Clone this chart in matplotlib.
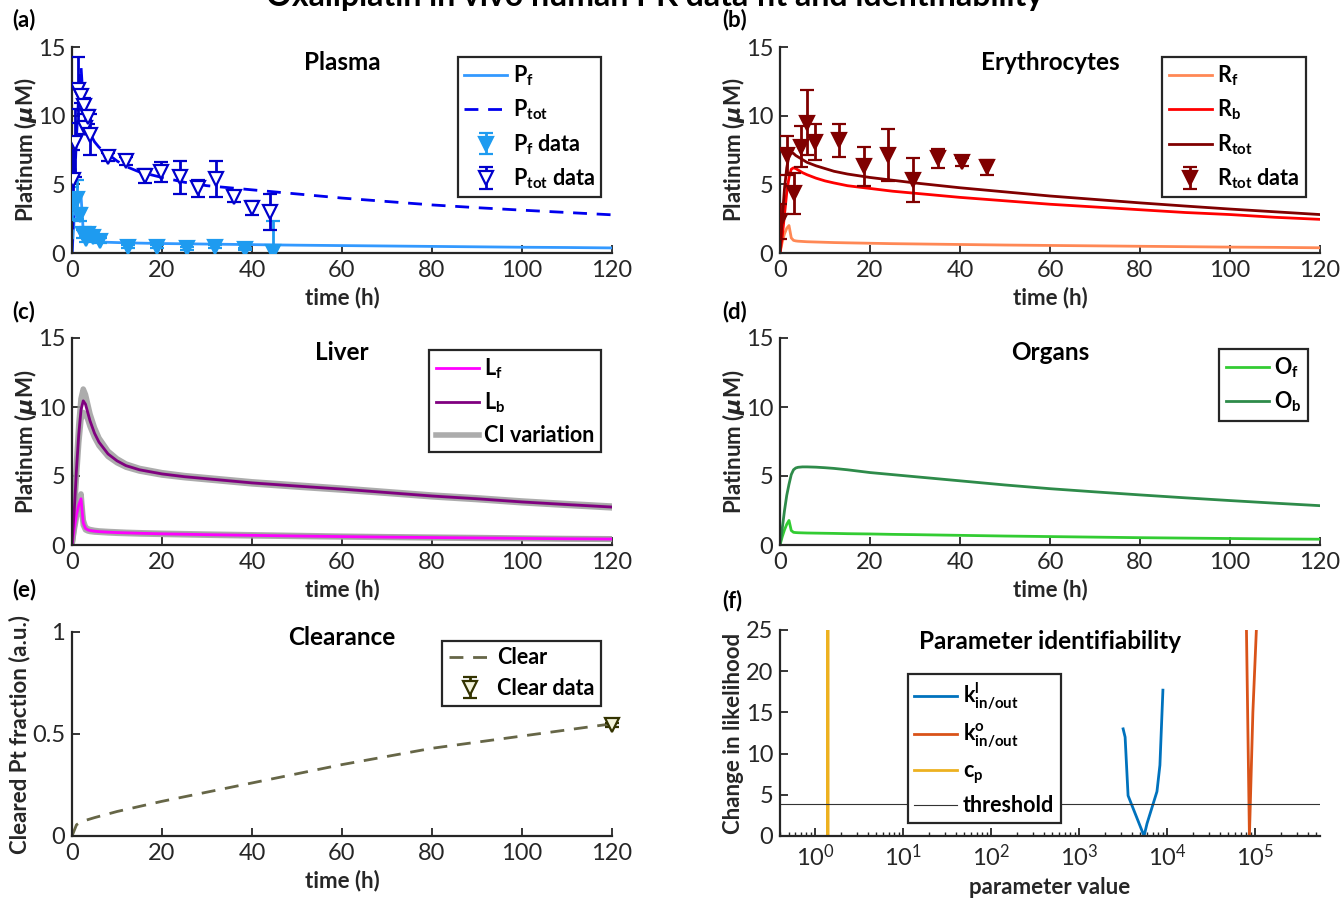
import matplotlib
matplotlib.use('Agg')
import matplotlib.pyplot as plt
import numpy as np

# fonts / matlab-like look
plt.rcParams['font.family'] = ['Lato', 'DejaVu Sans']
plt.rcParams['mathtext.fontset'] = 'custom'
plt.rcParams['mathtext.rm'] = 'Lato:bold'
plt.rcParams['mathtext.bf'] = 'Lato:bold'
plt.rcParams['mathtext.it'] = 'DejaVu Sans:italic:bold'
plt.rcParams['axes.linewidth'] = 1.6

# model time grid (h)
t_model = [0, 0.5, 1, 1.5, 2, 2.5, 3, 3.5, 4, 5, 6, 8, 10, 12, 15, 20, 25, 30,
           40, 50, 60, 70, 80, 90, 100, 110, 120]

# plasma
p_free = [0, 2.5, 3.4, 3.9, 4.2, 1.6, 1.05, 0.92, 0.87, 0.83, 0.8, 0.78, 0.76, 0.74,
          0.72, 0.69, 0.67, 0.65, 0.61, 0.57, 0.54, 0.51, 0.48, 0.45, 0.42, 0.4, 0.37]
p_tot = [0, 4.5, 8.5, 11.5, 13.6, 11.0, 9.8, 9.1, 8.7, 8.1, 7.7, 7.2, 6.7, 6.3,
         5.9, 5.5, 5.15, 4.9, 4.6, 4.3, 4.0, 3.75, 3.5, 3.3, 3.12, 2.95, 2.78]
pf_t = [0.1, 1.2, 1.7, 2.5, 3.1, 3.6, 4.7, 6.2, 12.5, 18.8, 25.5, 31.8, 38.4, 44.7]
pf_y = [3.6, 3.9, 2.8, 1.4, 1.0, 1.4, 1.2, 0.9, 0.45, 0.45, 0.35, 0.45, 0.3, 0.1]
pf_err = [1.2, 1.4, 0.5, 0.3, 0.2, 0.3, 0.2, 0.2, 0.1, 0.1, 0.1, 0.1, 0.1, 2.2]
ptot_t = [0.2, 0.76, 1.24, 1.9, 2.6, 2.9, 3.5, 4.0, 8.1, 11.9, 16.2, 19.8, 24.1,
          27.9, 32.1, 36.0, 40.0, 44.0]
ptot_y = [5.3, 8.0, 11.9, 11.4, 10.7, 9.1, 9.9, 8.6, 7.0, 6.7, 5.6, 5.9, 5.5,
          4.7, 5.4, 4.1, 3.3, 3.0]
ptot_err = [2.2, 2.5, 2.4, 0.5, 0.6, 0.4, 0.5, 1.5, 0.3, 0.3, 0.5, 0.7, 1.2,
            0.6, 1.3, 0.4, 0.5, 1.3]

# erythrocytes
r_free = [0, 0.8, 1.4, 1.8, 2.0, 1.1, 0.92, 0.88, 0.86, 0.84, 0.82, 0.8, 0.78, 0.76,
          0.74, 0.71, 0.68, 0.66, 0.62, 0.58, 0.55, 0.52, 0.49, 0.46, 0.43, 0.41, 0.38]
r_bound = [0, 1.2, 2.8, 4.4, 5.5, 6.1, 6.2, 6.15, 6.05, 5.85, 5.7, 5.45, 5.25, 5.1,
           4.9, 4.7, 4.5, 4.35, 4.05, 3.8, 3.55, 3.35, 3.15, 2.95, 2.8, 2.6, 2.45]
r_tot = [0, 2.5, 4.7, 6.2, 7.1, 7.3, 7.25, 7.1, 7.0, 6.8, 6.6, 6.35, 6.15, 5.95,
         5.75, 5.5, 5.3, 5.1, 4.75, 4.45, 4.15, 3.9, 3.65, 3.42, 3.2, 3.0, 2.8]
rtot_t = [0.0, 1.6, 3.1, 4.6, 6.1, 7.8, 13.2, 18.7, 24.1, 29.6, 35.0, 40.4, 45.9]
rtot_y = [2.3, 7.1, 4.35, 7.75, 9.5, 8.1, 8.2, 6.3, 7.15, 5.3, 6.9, 6.65, 6.25]
rtot_err = [1.3, 1.4, 1.5, 1.5, 2.4, 1.3, 1.2, 1.4, 1.9, 1.6, 0.7, 0.3, 0.55]

# liver
l_free = [0, 1.2, 2.2, 2.9, 3.35, 1.6, 1.2, 1.1, 1.05, 1.0, 0.97, 0.93, 0.9, 0.88,
          0.85, 0.81, 0.78, 0.75, 0.7, 0.65, 0.61, 0.57, 0.54, 0.51, 0.48, 0.45, 0.43]
l_free_hi = [0, 1.3, 2.4, 3.2, 3.7, 1.8, 1.3, 1.18, 1.12, 1.06, 1.02, 0.98, 0.95, 0.92,
             0.89, 0.85, 0.82, 0.79, 0.74, 0.69, 0.64, 0.6, 0.57, 0.54, 0.5, 0.47, 0.45]
l_free_lo = [0, 1.1, 2.0, 2.7, 3.1, 1.45, 1.1, 1.02, 0.98, 0.94, 0.92, 0.88, 0.85, 0.83,
             0.8, 0.77, 0.74, 0.71, 0.66, 0.62, 0.58, 0.55, 0.51, 0.48, 0.46, 0.43, 0.41]
l_bound = [0, 2.5, 5.5, 8.0, 9.8, 10.45, 10.2, 9.6, 9.0, 8.1, 7.45, 6.6, 6.1, 5.75,
           5.45, 5.15, 4.95, 4.8, 4.5, 4.27, 4.05, 3.8, 3.55, 3.35, 3.12, 2.93, 2.75]
l_bound_hi = [0, 2.8, 6.0, 8.7, 10.6, 11.3, 10.9, 10.2, 9.5, 8.5, 7.75, 6.8, 6.25, 5.87,
              5.55, 5.24, 5.03, 4.88, 4.58, 4.35, 4.12, 3.87, 3.62, 3.42, 3.19, 3.0, 2.82]
l_bound_lo = [0, 2.3, 5.0, 7.4, 9.1, 9.6, 9.5, 9.1, 8.6, 7.8, 7.2, 6.42, 5.96, 5.64,
              5.36, 5.07, 4.88, 4.73, 4.43, 4.2, 3.98, 3.74, 3.49, 3.29, 3.06, 2.87, 2.69]

# organs
o_free = [0, 0.6, 1.1, 1.5, 1.78, 1.05, 0.92, 0.9, 0.89, 0.88, 0.87, 0.86, 0.85, 0.84,
          0.82, 0.8, 0.77, 0.75, 0.7, 0.65, 0.61, 0.57, 0.53, 0.5, 0.47, 0.44, 0.42]
o_bound = [0, 1.2, 2.5, 3.6, 4.4, 5.1, 5.45, 5.58, 5.63, 5.66, 5.66, 5.64, 5.6, 5.55,
           5.45, 5.25, 5.1, 4.95, 4.65, 4.35, 4.08, 3.85, 3.63, 3.42, 3.22, 3.03, 2.85]

# clearance
t_clear = [0, 1, 2, 5, 10, 20, 30, 40, 50, 60, 70, 80, 90, 100, 110, 120]
clear = [0, 0.055, 0.07, 0.09, 0.12, 0.17, 0.215, 0.26, 0.305, 0.35, 0.39, 0.43,
         0.46, 0.49, 0.52, 0.55]
clear_t = [120]
clear_y = [0.545]
clear_err = [0.01]

# identifiability profiles
kl_vals = [3180, 3350, 3620, 5500, 5940, 7710, 8330, 9010]
kl_like = [13.0, 12.0, 4.9, 0, 1.5, 5.4, 8.6, 17.7]
ko_vals = [79000, 86700, 94900, 104000]
ko_like = [30, 0, 15, 25]
cp_vals = [1.395, 1.40, 1.405]
cp_like = [60, 0, 60]
threshold = 3.84

W, H = 1341, 901
fig = plt.figure(figsize=(W / 100, H / 100), dpi=100)


def box(left, top, right, bottom):
    return [left / W, 1 - bottom / H, (right - left) / W, (bottom - top) / H]


TXT = '#262626'


def style(ax):
    for s in ['top', 'right']:
        ax.spines[s].set_visible(False)
    for s in ['left', 'bottom']:
        ax.spines[s].set_color(TXT)
    ax.tick_params(direction='in', length=6, width=1.3, colors=TXT, labelsize=17, pad=5)
    ax.tick_params(which='minor', direction='in', length=3, width=1.0, colors=TXT)


def legend(ax, handles, labels, **kw):
    leg = ax.legend(handles, labels, frameon=True, fancybox=False, framealpha=1,
                    edgecolor=TXT, prop={'weight': 'bold', 'size': 15.5},
                    borderaxespad=0, handlelength=2.0, handletextpad=0.25,
                    labelspacing=0.45, borderpad=0.3, **kw)
    leg.get_frame().set_linewidth(1.6)
    return leg


def title(ax, text, y):
    ax.text(0.5, y, text, transform=ax.transAxes, ha='center', va='center',
            fontsize=17.5, fontweight='bold', color='black')


def time_axis(ax):
    ax.set_xlim(0, 120)
    ax.set_xticks(range(0, 121, 20))
    ax.set_xlabel('time (h)', fontsize=16, fontweight='bold', color=TXT)
    ax.xaxis.set_label_coords(0.5, -0.165)


def plat_axis(ax):
    ax.set_ylim(0, 15)
    ax.set_yticks([0, 5, 10, 15])
    ax.set_ylabel(r'Platinum ($\mu$M)', fontsize=16, fontweight='bold', color=TXT)
    ax.yaxis.set_label_coords(-0.062, 0.5)


lw = 2.0
eb = dict(capsize=5, elinewidth=2, capthick=2, ms=9.5, mew=1.6, linestyle='none', zorder=3)

# (a) plasma
ax = fig.add_axes(box(72, 47, 612, 253))
style(ax)
h1, = ax.plot(t_model, p_free, color='#3399FF', lw=lw)
h2, = ax.plot(t_model, p_tot, color='#0000EE', lw=lw, ls=(0, (5, 3.5)))
h3 = ax.errorbar(pf_t, pf_y, yerr=pf_err, fmt='v', color='#1E9BF0', mfc='#1E9BF0',
                 mec='#1E9BF0', **eb)
h4 = ax.errorbar(ptot_t, ptot_y, yerr=ptot_err, fmt='v', color='#0000CC', mfc='white',
                 mec='#0000CC', **eb)
time_axis(ax)
plat_axis(ax)
title(ax, 'Plasma', 0.927)
legend(ax, [h1, h2, h3, h4],
       [r'P$_\mathrm{f}$', r'P$_\mathrm{tot}$', r'P$_\mathrm{f}$ data', r'P$_\mathrm{tot}$ data'],
       loc='upper right', bbox_to_anchor=(0.98, 0.951))

# (b) erythrocytes
ax = fig.add_axes(box(780, 47, 1320, 253))
style(ax)
h1, = ax.plot(t_model, r_free, color='#FF8855', lw=lw)
h2, = ax.plot(t_model, r_bound, color='#FF0000', lw=lw)
h3, = ax.plot(t_model, r_tot, color='#800000', lw=lw)
h4 = ax.errorbar(rtot_t, rtot_y, yerr=rtot_err, fmt='v', color='#800000', mfc='#800000',
                 mec='#800000', **dict(eb, ms=10.5))
time_axis(ax)
plat_axis(ax)
title(ax, 'Erythrocytes', 0.927)
legend(ax, [h1, h2, h3, h4],
       [r'R$_\mathrm{f}$', r'R$_\mathrm{b}$', r'R$_\mathrm{tot}$', r'R$_\mathrm{tot}$ data'],
       loc='upper right', bbox_to_anchor=(0.974, 0.951))

# (c) liver
ax = fig.add_axes(box(72, 338, 612, 545))
style(ax)
for curve in [l_bound_hi, l_bound_lo, l_free_hi, l_free_lo]:
    hci, = ax.plot(t_model, curve, color='#9E9E9E', lw=4, alpha=0.85)
h1, = ax.plot(t_model, l_free, color='#FF00FF', lw=lw)
h2, = ax.plot(t_model, l_bound, color='#800080', lw=lw)
time_axis(ax)
plat_axis(ax)
title(ax, 'Liver', 0.928)
legend(ax, [h1, h2, hci], [r'L$_\mathrm{f}$', r'L$_\mathrm{b}$', 'CI variation'],
       loc='upper right', bbox_to_anchor=(0.98, 0.942))

# (d) organs
ax = fig.add_axes(box(780, 338, 1320, 545))
style(ax)
h1, = ax.plot(t_model, o_free, color='#33CC33', lw=lw)
h2, = ax.plot(t_model, o_bound, color='#2E8B4A', lw=lw)
time_axis(ax)
plat_axis(ax)
title(ax, 'Organs', 0.928)
legend(ax, [h1, h2], [r'O$_\mathrm{f}$', r'O$_\mathrm{b}$'],
       loc='upper right', bbox_to_anchor=(0.978, 0.947))

# (e) clearance
ax = fig.add_axes(box(72, 632, 612, 836))
style(ax)
h1, = ax.plot(t_clear, clear, color='#666647', lw=lw, ls=(0, (5, 3.5)))
h2 = ax.errorbar(clear_t, clear_y, yerr=clear_err, fmt='v', color='#333300', mfc='#F4F4DC',
                 mec='#333300', **dict(eb, clip_on=False))
time_axis(ax)
ax.set_ylim(0, 1)
ax.set_yticks([0, 0.5, 1])
ax.set_yticklabels(['0', '0.5', '1'])
ax.set_ylabel('Cleared Pt fraction (a.u.)', fontsize=16, fontweight='bold', color=TXT)
ax.yaxis.set_label_coords(-0.078, 0.5)
title(ax, 'Clearance', 0.975)
legend(ax, [h1, h2], ['Clear', 'Clear data'],
       loc='upper right', bbox_to_anchor=(0.98, 0.956))

# (f) identifiability
ax = fig.add_axes(box(780, 630, 1320, 836))
style(ax)
ax.set_xscale('log')
h1, = ax.plot(kl_vals, kl_like, color='#0072BD', lw=lw)
h2, = ax.plot(ko_vals, ko_like, color='#D95319', lw=lw)
h3, = ax.plot(cp_vals, cp_like, color='#EDB120', lw=lw)
h4 = ax.axhline(threshold, color='#333333', lw=0.8)
ax.set_xlim(0.4, 5.5e5)
ax.set_ylim(0, 25)
ax.set_yticks(range(0, 26, 5))
ax.set_xticks([1, 10, 100, 1e3, 1e4, 1e5])
ax.set_xlabel('parameter value', fontsize=16, fontweight='bold', color=TXT)
ax.xaxis.set_label_coords(0.5, -0.2)
ax.set_ylabel('Change in likelihood', fontsize=16, fontweight='bold', color=TXT)
ax.yaxis.set_label_coords(-0.066, 0.5)
title(ax, 'Parameter identifiability', 0.946)
legend(ax, [h1, h2, h3, h4],
       [r'k$^\mathrm{l}_\mathrm{in/out}$', r'k$^\mathrm{o}_\mathrm{in/out}$',
        r'c$_\mathrm{p}$', 'threshold'],
       loc='lower left', bbox_to_anchor=(0.237, 0.064))

# panel letters and super title
for lab, x, y in [('(a)', 12, 20), ('(b)', 722, 20), ('(c)', 12, 312),
                  ('(d)', 722, 312), ('(e)', 12, 590), ('(f)', 722, 601)]:
    fig.text(x / W, 1 - y / H, lab, fontsize=16, fontweight='bold', va='center', color='black')
fig.text(655 / W, 1 - 6 / H, 'Oxaliplatin in vivo human PK data fit and identifiability',
         ha='center', va='baseline', fontsize=23, fontweight='bold', color='black')

fig.savefig('out.png', dpi=100)
